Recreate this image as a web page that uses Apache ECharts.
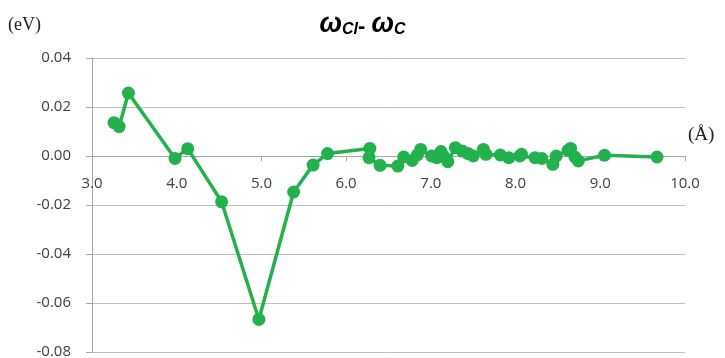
<!DOCTYPE html>
<html>
<head>
<meta charset="utf-8">
<script src="https://cdn.jsdelivr.net/npm/echarts@6/dist/echarts.min.js"></script>
<style>html,body{margin:0;padding:0;background:#fff}#c{width:725px;height:358px}</style>
</head>
<body>
<div id="c"></div>
<script>
var distances = [3.26,3.32,3.43,3.98,4.13,4.53,4.97,5.38,5.61,5.78,6.28,6.27,6.40,6.61,6.68,6.78,6.84,6.88,7.01,7.07,7.12,7.15,7.20,7.29,7.37,7.44,7.50,7.62,7.65,7.82,7.92,8.05,8.07,8.23,8.31,8.44,8.48,8.62,8.65,8.70,8.74,9.05,9.67];
var diffs = [0.0136,0.0120,0.0257,-0.0010,0.0030,-0.0187,-0.0667,-0.0147,-0.0037,0.0010,0.0031,-0.0007,-0.0038,-0.0041,-0.0004,-0.0018,0.0004,0.0027,0.0000,-0.0007,0.0018,0.0000,-0.0023,0.0034,0.0020,0.0010,0.0000,0.0027,0.0007,0.0004,-0.0007,0.0000,0.0007,-0.0007,-0.0010,-0.0034,0.0000,0.0023,0.0031,-0.0004,-0.0020,0.0003,-0.0004];
var xTicks = [3,4,5,6,7,8,9,10];
var yTicks = [-0.08,-0.06,-0.04,-0.02,0,0.02,0.04];

var points = distances.map(function(d,i){return [d, diffs[i]];});
var chart = echarts.init(document.getElementById('c'));
chart.setOption({
  animation:false,
  title:{
    text:'{w|ω}{s|Cl}{m|- }{w|ω}{s|C}',
    left:'center', top:1,
    textStyle:{
      rich:{
        w:{fontFamily:'Liberation Sans',fontStyle:'italic',fontWeight:'bold',fontSize:27,color:'#000',lineHeight:32,verticalAlign:'bottom'},
        s:{fontFamily:'Liberation Sans',fontStyle:'italic',fontWeight:'bold',fontSize:16,color:'#000',lineHeight:32,verticalAlign:'bottom',padding:[10,0,0,0]},
        m:{fontFamily:'Liberation Sans',fontWeight:'bold',fontSize:22,color:'#000',lineHeight:32,verticalAlign:'bottom'}
      }
    }
  },
  graphic:[
    {type:'text',left:8,top:16,style:{text:'(eV)',font:'18px "Liberation Serif"',fill:'#222'}},
    {type:'text',left:688,top:126,style:{text:'(Å)',font:'19px "Liberation Serif"',fill:'#222'}}
  ],
  grid:{left:92,right:40,top:58,bottom:6,outerBoundsMode:'none',containLabel:false},
  xAxis:{
    type:'value',min:3,max:10,interval:1,
    axisLine:{onZero:true,lineStyle:{color:'#a6a6a6',width:1}},
    axisTick:{show:true,length:5,lineStyle:{color:'#a6a6a6'}},
    axisLabel:{margin:-176,color:'#404040',fontFamily:'Open Sans',fontSize:15,formatter:function(v){return v.toFixed(1);}},
    splitLine:{show:false}
  },
  yAxis:{
    type:'value',min:-0.08,max:0.04,interval:0.02,
    axisLine:{show:true,lineStyle:{color:'#a6a6a6',width:1}},
    axisTick:{show:true,length:6,lineStyle:{color:'#a6a6a6'}},
    axisLabel:{margin:21,color:'#404040',fontFamily:'Open Sans',fontSize:15,formatter:function(v){return v.toFixed(2);}},
    splitLine:{show:true,lineStyle:{color:'#bfbfbf',width:1}}
  },
  series:[{
    type:'line',data:points,
    symbol:'circle',symbolSize:13,
    lineStyle:{color:'#22b14c',width:3.5},
    itemStyle:{color:'#22b14c'}
  }]
});
</script>
</body>
</html>
